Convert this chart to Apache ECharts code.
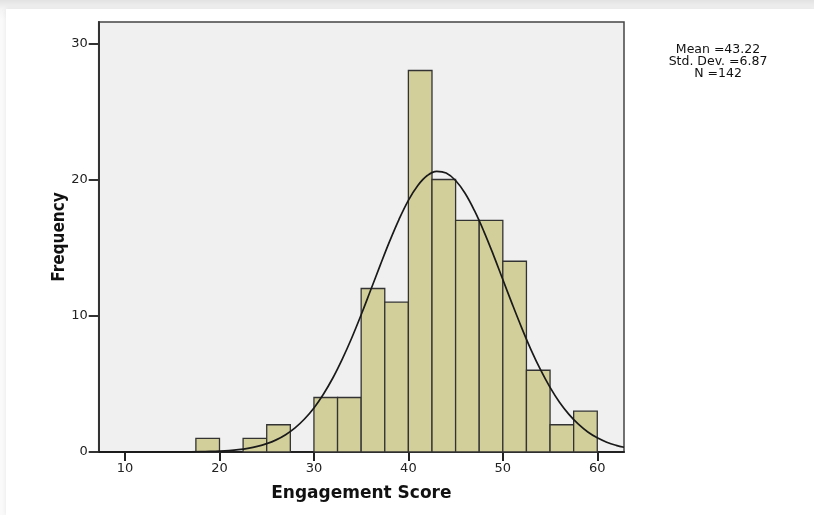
<!DOCTYPE html>
<html>
<head>
<meta charset="utf-8">
<script src="https://cdn.jsdelivr.net/npm/echarts@6/dist/echarts.min.js"></script>
<style>
  html, body { margin: 0; padding: 0; width: 814px; height: 515px; overflow: hidden;
    background: linear-gradient(#e2e2e2, #f4f4f4 9px, #fafafa 20px, #fafafa); }
  #card { position: absolute; left: 6px; top: 9px; width: 808px; height: 506px; background: #ffffff;
    box-shadow: 0 0 5px rgba(0,0,0,0.08); }
  #chart { position: absolute; left: 0; top: 0; width: 814px; height: 515px; }
</style>
</head>
<body>
<div id="card"></div>
<div id="chart"></div>
<script>
// ---- data ----
const binStarts = [17.5, 22.5, 25, 30, 32.5, 35, 37.5, 40, 42.5, 45, 47.5, 50, 52.5, 55, 57.5];
const binCounts = [1, 1, 2, 4, 4, 12, 11, 28, 20, 17, 17, 14, 6, 2, 3];
const binWidth = 2.5;
const xTicks = [10, 20, 30, 40, 50, 60];
const yTicks = [0, 10, 20, 30];
// fitted normal curve
const curveX = [7.21, 10, 14, 16, 18, 19, 20, 21, 22, 23, 24, 25, 26, 27, 28, 29, 30, 31, 32, 33, 34, 35, 36, 37, 38, 39, 40, 41, 42, 43, 44, 45, 46, 47, 48, 49, 50, 51, 52, 53, 54, 55, 56, 57, 58, 59, 60, 61, 62, 62.83];
const curveY = [0, 0, 0.002, 0.008, 0.024, 0.041, 0.068, 0.110, 0.175, 0.271, 0.41, 0.612, 0.89, 1.27, 1.77, 2.42, 3.23, 4.24, 5.43, 6.82, 8.37, 10.07, 11.87, 13.68, 15.44, 17.06, 18.47, 19.56, 20.29, 20.60, 20.48, 19.93, 18.99, 17.71, 16.18, 14.47, 12.66, 10.85, 9.11, 7.48, 6.02, 4.74, 3.65, 2.76, 2.04, 1.47, 1.04, 0.72, 0.49, 0.35];
const statLines = ['Mean =43.22', 'Std. Dev. =6.87', 'N =142'];
const xTitle = 'Engagement Score';
const yTitle = 'Frequency';

const barData = binStarts.map((s, i) => [s, s + binWidth, binCounts[i]]);
const curveData = curveX.map((x, i) => [x, curveY[i]]);

const chart = echarts.init(document.getElementById('chart'), null, { renderer: 'canvas' });
const option = {
  backgroundColor: 'transparent',
  animation: false,
  grid: { left: 98.7, right: 190, top: 22, bottom: 63, show: true,
    backgroundColor: '#f0f0f0', borderColor: '#444', borderWidth: 1.5 },
  xAxis: {
    type: 'value', min: 7.21, max: 62.83,
    name: xTitle, nameLocation: 'middle', nameGap: 33, nameMoveOverlap: false,
    nameTextStyle: { fontFamily: 'DejaVu Sans', fontWeight: 'bold', fontSize: 17, color: '#111' },
    splitLine: { show: false },
    axisLine: { show: true, onZero: false, lineStyle: { color: '#222', width: 2 } },
    axisTick: { show: true, customValues: xTicks, length: 9, lineStyle: { color: '#222', width: 2 } },
    axisLabel: { customValues: xTicks, margin: 10, fontFamily: 'DejaVu Sans', fontSize: 13, color: '#222' }
  },
  yAxis: {
    type: 'value', min: 0, max: 31.56,
    name: yTitle, nameLocation: 'middle', nameGap: 31, nameRotate: 90, nameMoveOverlap: false,
    nameTextStyle: { fontFamily: "'Liberation Sans Narrow', 'DejaVu Sans Condensed', 'Liberation Sans', Arial, sans-serif",
      fontWeight: 'bold', fontSize: 17, color: '#111' },
    splitLine: { show: false },
    axisLine: { show: true, onZero: false, lineStyle: { color: '#333', width: 2 } },
    axisTick: { show: true, customValues: yTicks, length: 10, lineStyle: { color: '#333', width: 2 } },
    axisLabel: { customValues: yTicks, margin: 11, fontFamily: 'DejaVu Sans', fontSize: 13, color: '#222' }
  },
  graphic: statLines.map((t, i) => ({
    type: 'text', x: 718, y: 49.5 + i * 12, silent: true,
    style: { text: t, align: 'center', verticalAlign: 'middle',
      font: '12.5px "DejaVu Sans"', fill: '#111' }
  })),
  series: [
    {
      type: 'custom',
      data: barData,
      encode: { x: [0, 1], y: 2 },
      renderItem: function (params, api) {
        const p0 = api.coord([api.value(0), api.value(2)]);
        const p1 = api.coord([api.value(1), 0]);
        return {
          type: 'rect',
          shape: { x: p0[0], y: p0[1], width: p1[0] - p0[0], height: p1[1] - p0[1] },
          style: { fill: '#d3cf9b', stroke: '#333', lineWidth: 1.3 }
        };
      },
      z: 2
    },
    {
      type: 'line',
      data: curveData,
      smooth: 0.4,
      showSymbol: false,
      symbol: 'none',
      lineStyle: { color: '#1a1a1a', width: 1.7 },
      z: 3
    }
  ]
};
chart.setOption(option);
</script>
</body>
</html>
